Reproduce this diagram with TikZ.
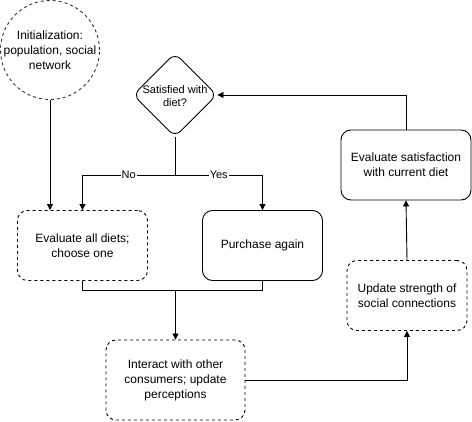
\documentclass[tikz,border=0pt]{standalone}
\usepackage{fontspec}
\setmainfont{Liberation Sans}
\usetikzlibrary{shapes.geometric,arrows.meta}
\begin{document}
\begin{tikzpicture}[x=1pt,y=-1pt,
  every node/.style={font=\fontsize{12}{15}\selectfont, align=center, inner sep=0pt},
  box/.style={draw, rectangle, rounded corners=10pt, line width=0.9pt},
  dbox/.style={box, dash pattern=on 3pt off 3pt},
  conn/.style={line width=0.9pt},
  arr/.style={conn, -{Triangle[length=6pt,width=6pt]}},
  lbl/.style={fill=white, font=\fontsize{11}{13}\selectfont, inner sep=1pt}
]
\useasboundingbox (0,0) rectangle (472,422);
\node[draw=black!80, circle, minimum size=99pt, dash pattern=on 3pt off 3pt, line width=0.9pt] (init) at (50,50) {};
\node at (50,50) {Initialization:\\population, social\\network};
\node[draw, diamond, aspect=1, minimum width=84pt, minimum height=84pt, rounded corners=8pt, line width=0.9pt] (dia) at (175,95) {};
\node[font=\fontsize{11}{13}\selectfont] at (175,96) {Satisfied with\\diet?};
\node[dbox, minimum width=130pt, minimum height=70pt] (eval) at (82.5,245.5) {Evaluate all diets;\\choose one};
\node[box, minimum width=120pt, minimum height=70pt] (buy) at (262.5,245.5) {Purchase again};
\node[box, minimum width=130pt, minimum height=70pt] (sat) at (406,165) {Evaluate satisfaction\\with current diet};
\node[dbox, minimum width=120pt, minimum height=70pt] (upd) at (407,295.5) {Update strength of\\social connections};
\node[dbox, minimum width=139pt, minimum height=80pt] (inter) at (175.5,380) {Interact with other\\consumers; update\\perceptions};
\coordinate (split) at (175,175);
\coordinate (join) at (175.5,290);
\draw[arr] (init.south) -- (init.south |- eval.north);
\draw[conn] (dia.south) -- (split);
\draw[arr] (split) -- node[lbl, pos=0.5] {No} (eval.north |- split) -- (eval.north);
\draw[arr] (split) -- node[lbl, pos=0.5] {Yes} (buy.north |- split) -- (buy.north);
\draw[conn] (eval.south) -- (eval.south |- join) -- (buy.south |- join) -- (buy.south);
\draw[arr] (join) -- (inter.north);
\draw[arr] (inter.east) -- (inter.east -| upd.south) -- (upd.south);
\draw[arr] (upd.north) -- (sat.south);
\draw[arr] (sat.north) -- (sat.north |- dia.east) -- (dia.east);
\end{tikzpicture}
\end{document}
